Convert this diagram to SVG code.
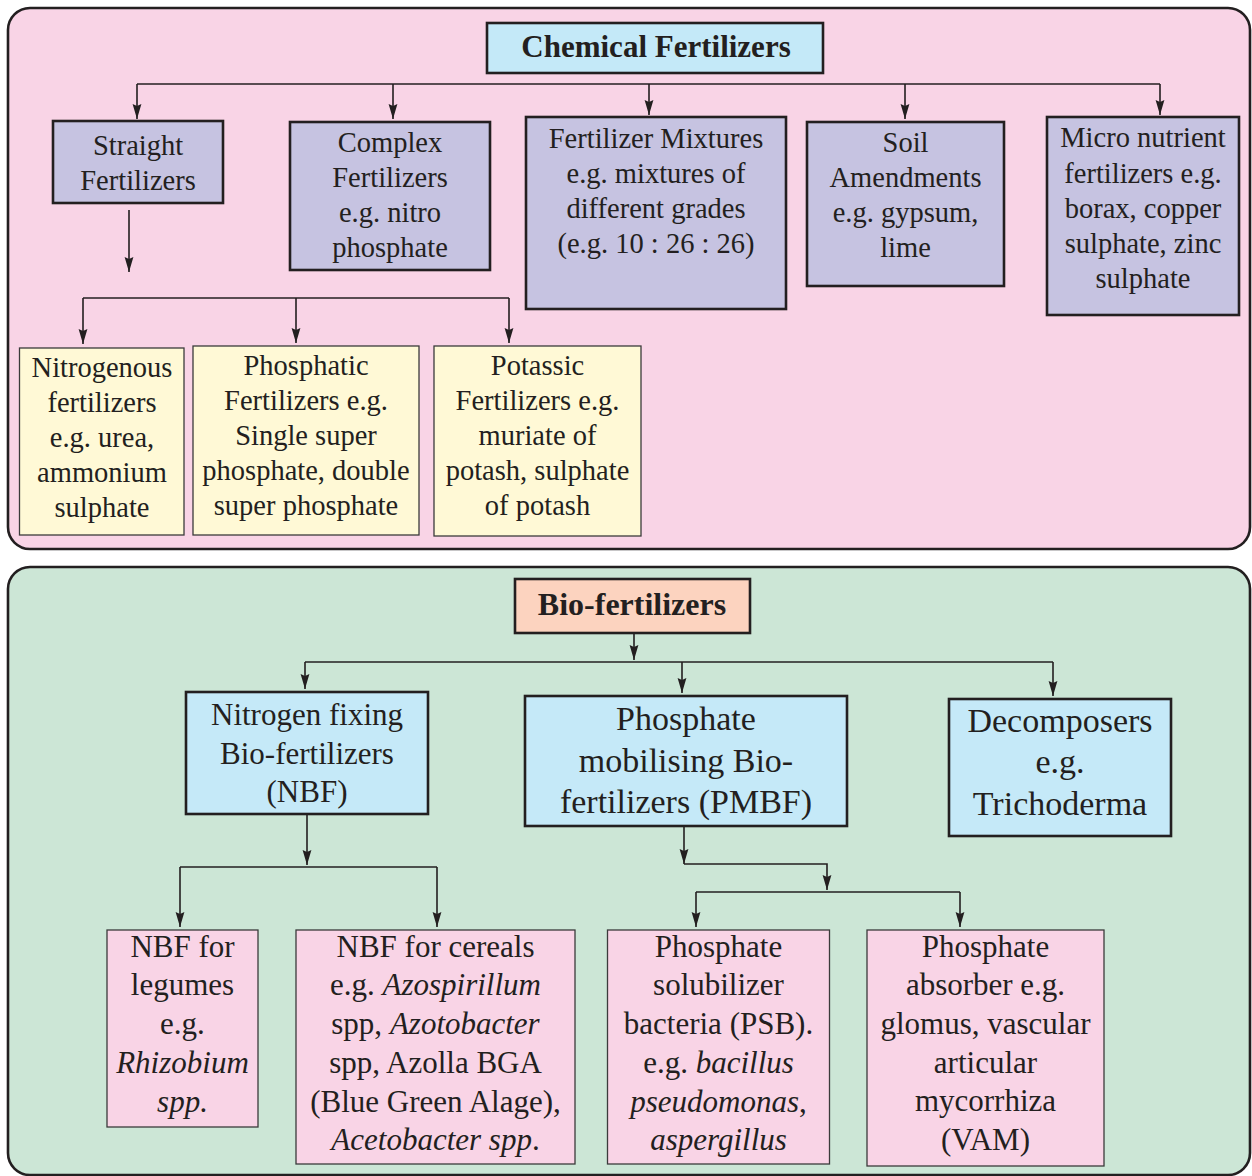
<svg xmlns="http://www.w3.org/2000/svg" width="1252" height="1176" viewBox="0 0 1252 1176">
<style>
.panel{stroke:#231f20;stroke-width:2.6}
.box{stroke:#231f20;stroke-width:2.6}
.thin{stroke:#3b3b3b;stroke-width:1.3}
.lav{fill:#c6c3e1}
.yel{fill:#fff9d6}
.blue{fill:#c5e9f8}
.pink{fill:#f9d4e6}
.t{font-family:"Liberation Serif","Times New Roman",serif;fill:#231f20;text-anchor:middle}
.b{font-weight:bold}
.i{font-style:italic}
.s29{font-size:28.5px}
.s31{font-size:31px}
.s34{font-size:34px}
.conn{fill:none;stroke:#231f20;stroke-width:1.6}
</style>
<defs>
<marker id="ah" markerUnits="userSpaceOnUse" markerWidth="15" markerHeight="10" refX="15" refY="5" orient="auto">
<path d="M0,0.6 L15,5 L0,9.4 L2,5 z" fill="#231f20"/>
</marker>
</defs>

<rect class="panel" x="8" y="8" width="1242" height="541" rx="22" fill="#f9d4e6"/>
<rect class="panel" x="8" y="567" width="1242" height="608" rx="22" fill="#cce6d6"/>

<g id="connectors">
<path class="conn" d="M137,84 H1160"/>
<path class="conn" d="M137,84 V119" marker-end="url(#ah)"/>
<path class="conn" d="M393,84 V119" marker-end="url(#ah)"/>
<path class="conn" d="M649,84 V115" marker-end="url(#ah)"/>
<path class="conn" d="M905,84 V119" marker-end="url(#ah)"/>
<path class="conn" d="M1160,84 V115" marker-end="url(#ah)"/>
<path class="conn" d="M129,210 V272" marker-end="url(#ah)"/>
<path class="conn" d="M83,298 H509"/>
<path class="conn" d="M83,298 V344" marker-end="url(#ah)"/>
<path class="conn" d="M296,298 V343" marker-end="url(#ah)"/>
<path class="conn" d="M509,298 V343" marker-end="url(#ah)"/>

<path class="conn" d="M634,633 V660" marker-end="url(#ah)"/>
<path class="conn" d="M305,662 H1053"/>
<path class="conn" d="M305,662 V689" marker-end="url(#ah)"/>
<path class="conn" d="M682,662 V693" marker-end="url(#ah)"/>
<path class="conn" d="M1053,662 V696" marker-end="url(#ah)"/>
<path class="conn" d="M307,815 V865" marker-end="url(#ah)"/>
<path class="conn" d="M180,867 H437"/>
<path class="conn" d="M180,867 V927" marker-end="url(#ah)"/>
<path class="conn" d="M437,867 V927" marker-end="url(#ah)"/>
<path class="conn" d="M684,826 V864" marker-end="url(#ah)"/>
<path class="conn" d="M684,864 H827 V890" marker-end="url(#ah)"/>
<path class="conn" d="M696,892 H960"/>
<path class="conn" d="M696,892 V927" marker-end="url(#ah)"/>
<path class="conn" d="M960,892 V927" marker-end="url(#ah)"/>
</g>

<g id="chemical-fertilizers">
<rect class="box" x="487" y="23" width="336" height="50" fill="#c4e9f8"/>
<text class="t b" x="656" y="57" font-size="31px">Chemical Fertilizers</text>
</g>
<g id="straight">
<rect class="box lav" x="53" y="121" width="170" height="82"/>
<text class="t s29"><tspan x="138" y="155">Straight</tspan><tspan x="138" y="190">Fertilizers</tspan></text>
</g>
<g id="complex">
<rect class="box lav" x="290" y="122" width="200" height="148"/>
<text class="t s29"><tspan x="390" y="152">Complex</tspan><tspan x="390" y="187">Fertilizers</tspan><tspan x="390" y="222">e.g. nitro</tspan><tspan x="390" y="257">phosphate</tspan></text>
</g>
<g id="mixtures">
<rect class="box lav" x="526" y="117" width="260" height="192"/>
<text class="t s29"><tspan x="656" y="148">Fertilizer Mixtures</tspan><tspan x="656" y="183">e.g. mixtures of</tspan><tspan x="656" y="218">different grades</tspan><tspan x="656" y="253">(e.g. 10 : 26 : 26)</tspan></text>
</g>
<g id="soil">
<rect class="box lav" x="807" y="122" width="197" height="164"/>
<text class="t s29"><tspan x="905.5" y="152">Soil</tspan><tspan x="905.5" y="187">Amendments</tspan><tspan x="905.5" y="222">e.g. gypsum,</tspan><tspan x="905.5" y="257">lime</tspan></text>
</g>
<g id="micro">
<rect class="box lav" x="1047" y="117" width="192" height="198"/>
<text class="t s29"><tspan x="1143" y="147">Micro nutrient</tspan><tspan x="1143" y="183">fertilizers e.g.</tspan><tspan x="1143" y="218">borax, copper</tspan><tspan x="1143" y="253">sulphate, zinc</tspan><tspan x="1143" y="288">sulphate</tspan></text>
</g>
<g id="nitrogenous">
<rect class="thin yel" x="19.5" y="348" width="164.5" height="187"/>
<text class="t s29"><tspan x="102" y="377">Nitrogenous</tspan><tspan x="102" y="412">fertilizers</tspan><tspan x="102" y="447">e.g. urea,</tspan><tspan x="102" y="482">ammonium</tspan><tspan x="102" y="517">sulphate</tspan></text>
</g>
<g id="phosphatic">
<rect class="thin yel" x="193" y="346" width="226" height="189"/>
<text class="t s29"><tspan x="306" y="375">Phosphatic</tspan><tspan x="306" y="410">Fertilizers e.g.</tspan><tspan x="306" y="445">Single super</tspan><tspan x="306" y="480">phosphate, double</tspan><tspan x="306" y="515">super phosphate</tspan></text>
</g>
<g id="potassic">
<rect class="thin yel" x="434" y="346" width="207" height="190"/>
<text class="t s29"><tspan x="537.5" y="375">Potassic</tspan><tspan x="537.5" y="410">Fertilizers e.g.</tspan><tspan x="537.5" y="445">muriate of</tspan><tspan x="537.5" y="480">potash, sulphate</tspan><tspan x="537.5" y="515">of potash</tspan></text>
</g>

<g id="bio-fertilizers">
<rect class="box" x="515" y="579" width="235" height="54" fill="#fcd3bf"/>
<text class="t b" x="632" y="615" font-size="32px">Bio-fertilizers</text>
</g>
<g id="nbf">
<rect class="box blue" x="186" y="692" width="242" height="122"/>
<text class="t s31"><tspan x="307" y="725">Nitrogen fixing</tspan><tspan x="307" y="764">Bio-fertilizers</tspan><tspan x="307" y="802">(NBF)</tspan></text>
</g>
<g id="pmbf">
<rect class="box blue" x="525" y="696" width="322" height="130"/>
<text class="t s34"><tspan x="686" y="730">Phosphate</tspan><tspan x="686" y="772">mobilising Bio-</tspan><tspan x="686" y="813">fertilizers (PMBF)</tspan></text>
</g>
<g id="decomposers">
<rect class="box blue" x="949" y="699" width="222" height="137"/>
<text class="t s34"><tspan x="1060" y="732">Decomposers</tspan><tspan x="1060" y="773">e.g.</tspan><tspan x="1060" y="815">Trichoderma</tspan></text>
</g>
<g id="nbf-legumes">
<rect class="thin pink" x="107" y="930" width="151" height="197"/>
<text class="t s31"><tspan x="182.5" y="957">NBF for</tspan><tspan x="182.5" y="995">legumes</tspan><tspan x="182.5" y="1034">e.g.</tspan><tspan x="182.5" y="1073" class="i">Rhizobium</tspan><tspan x="182.5" y="1112" class="i">spp.</tspan></text>
</g>
<g id="nbf-cereals">
<rect class="thin pink" x="296" y="930" width="279" height="234"/>
<text class="t s31"><tspan x="435.5" y="957">NBF for cereals</tspan><tspan x="435.5" y="995">e.g. <tspan class="i">Azospirillum</tspan></tspan><tspan x="435.5" y="1034">spp, <tspan class="i">Azotobacter</tspan></tspan><tspan x="435.5" y="1073">spp, Azolla BGA</tspan><tspan x="435.5" y="1112">(Blue Green Alage),</tspan><tspan x="435.5" y="1150"><tspan class="i">Acetobacter spp</tspan>.</tspan></text>
</g>
<g id="psb">
<rect class="thin pink" x="607.5" y="930" width="222" height="234"/>
<text class="t s31"><tspan x="718.5" y="957">Phosphate</tspan><tspan x="718.5" y="995">solubilizer</tspan><tspan x="718.5" y="1034">bacteria (PSB).</tspan><tspan x="718.5" y="1073">e.g. <tspan class="i">bacillus</tspan></tspan><tspan x="718.5" y="1112"><tspan class="i">pseudomonas</tspan>,</tspan><tspan x="718.5" y="1150" class="i">aspergillus</tspan></text>
</g>
<g id="absorber">
<rect class="thin pink" x="867" y="930" width="237" height="236"/>
<text class="t s31"><tspan x="985.5" y="957">Phosphate</tspan><tspan x="985.5" y="995">absorber e.g.</tspan><tspan x="985.5" y="1034">glomus, vascular</tspan><tspan x="985.5" y="1073">articular</tspan><tspan x="985.5" y="1111">mycorrhiza</tspan><tspan x="985.5" y="1150">(VAM)</tspan></text>
</g>
</svg>
